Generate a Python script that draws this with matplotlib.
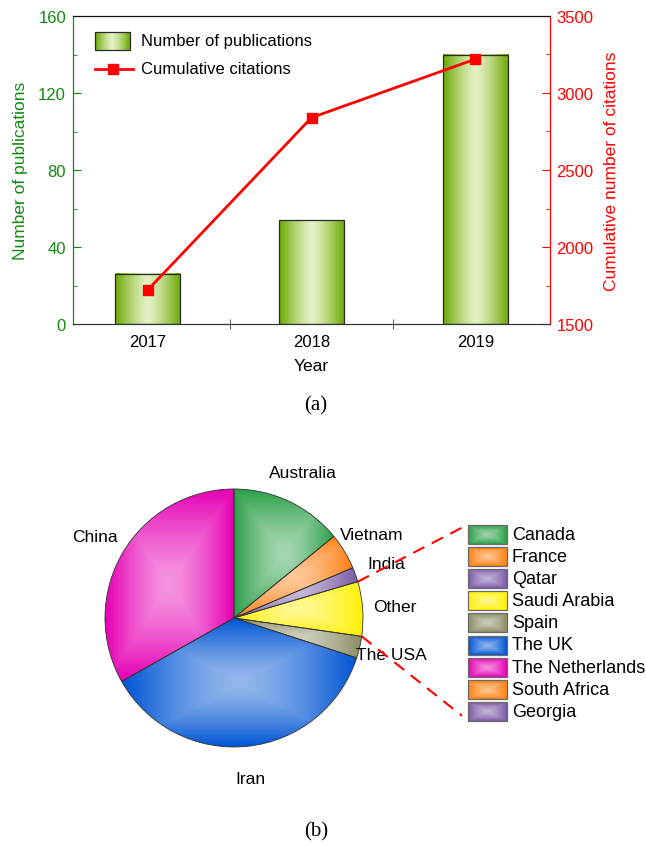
import numpy as np
import matplotlib.pyplot as plt
from matplotlib.patches import Rectangle
from matplotlib.lines import Line2D
from matplotlib.colors import to_rgb

plt.rcParams['font.family'] = ['Liberation Sans', 'DejaVu Sans']

# publications per year and cumulative citations
years = [2017, 2018, 2019]
publications = [26, 54, 140]
citations = [1720, 2840, 3220]

# country shares (number of papers)
countries = ['Australia', 'Vietnam', 'India', 'Other', 'The USA', 'Iran', 'China']
shares = [31, 10, 4, 15, 6, 81, 73]
pie_colors = ['#2ca048', '#ff7f10', '#7a5aa6', '#fff000', '#8c8c64', '#0055d4', '#e600b4']

# countries grouped under "Other"
other_countries = ['Canada', 'France', 'Qatar', 'Saudi Arabia', 'Spain', 'The UK',
                   'The Netherlands', 'South Africa', 'Georgia']
other_colors = ['#2ca048', '#ff7f10', '#7a5aa6', '#fff000', '#8c8c64', '#0055d4',
                '#e600b4', '#ff7f10', '#7a5aa6']

GREEN = '#108a10'
RED = '#ff0000'
W, H = 646, 845


def fig_rect(x0, y0, x1, y1):
    return [x0 / W, 1 - y1 / H, (x1 - x0) / W, (y1 - y0) / H]


def lighten(c, f=0.58):
    c = np.array(to_rgb(c))
    return c + (1 - c) * f


def pyramid(color, n=80, f=0.58, p=1.0):
    # light in the middle, full colour towards the box edges
    base = np.array(to_rgb(color))
    light = lighten(color, f)
    u = np.linspace(-1, 1, n)
    U, V = np.meshgrid(u, u)
    t = np.maximum(np.abs(U), np.abs(V)) ** p
    return light + (base - light) * t[..., None]


def bar_gradient(n=120):
    dark = np.array(to_rgb('#6aa800'))
    light = np.array(to_rgb('#e4f1c4'))
    u = np.abs(np.linspace(-1, 1, n)) ** 1.3
    row = light + (dark - light) * u[:, None]
    return np.repeat(row[None, :, :], 4, axis=0)


fig = plt.figure(figsize=(W / 100, H / 100), dpi=100)

# ---------------- (a) bars + cumulative line ----------------
XLIM = (2016.545, 2019.455)
ax = fig.add_axes(fig_rect(73, 17, 550, 325))
bars = ax.bar(years, publications, width=0.4, facecolor='none',
              edgecolor='#2b2b2b', linewidth=0.9, zorder=3)
grad = bar_gradient()
for b in bars:
    x0, y0, w, h = b.get_x(), b.get_y(), b.get_width(), b.get_height()
    ax.imshow(grad, extent=[x0, x0 + w, y0, y0 + h], aspect='auto', zorder=2)

ax.set_xticks(years)
ax.set_xticklabels([str(y) for y in years])
ax.set_xticks([2017.5, 2018.5], minor=True)
ax.tick_params(axis='x', which='major', length=0, pad=7, labelsize=12)
ax.tick_params(axis='x', which='minor', length=7, direction='inout', color='#333333')
ax.set_yticks(np.arange(0, 161, 40))
ax.set_yticks(np.arange(0, 161, 20), minor=True)
ax.tick_params(axis='y', which='major', direction='in', length=6, pad=5,
               colors=GREEN, labelsize=12)
ax.tick_params(axis='y', which='minor', direction='in', length=3, colors=GREEN)
ax.spines['left'].set_color(GREEN)
ax.spines['bottom'].set_color('#333333')
ax.spines['top'].set_color('#111111')
ax.set_ylabel('Number of publications', color=GREEN, fontsize=12.5, labelpad=7)
ax.set_xlabel('Year', fontsize=12.5, labelpad=7)

ax2 = ax.twinx()
ax2.plot(years, citations, color=RED, lw=2, marker='s', ms=7, zorder=4)
ax2.set_ylim(1500, 3500)
ax2.set_yticks(np.arange(1500, 3501, 500))
ax2.set_yticks(np.arange(1500, 3501, 250), minor=True)
ax2.tick_params(axis='y', which='major', direction='in', length=6, pad=4.5,
                colors=RED, labelsize=12)
ax2.tick_params(axis='y', which='minor', direction='in', length=3, colors=RED)
ax2.spines['right'].set_color(RED)
ax2.spines['left'].set_color(GREEN)
ax2.spines['top'].set_color('#111111')
ax2.spines['bottom'].set_color('#333333')
ax2.set_ylabel('Cumulative number of citations', color=RED, fontsize=12.5, labelpad=8)

# hand-made legend so the swatch carries the same gradient as the bars
ax.imshow(grad, extent=[0.046, 0.119, 0.890, 0.948], aspect='auto',
          transform=ax.transAxes, zorder=5)
ax.add_patch(Rectangle((0.046, 0.890), 0.073, 0.058, transform=ax.transAxes,
                       facecolor='none', edgecolor='#2b2b2b', lw=0.9, zorder=6))
ax.text(0.143, 0.919, 'Number of publications', transform=ax.transAxes,
        fontsize=12, va='center', ha='left')
ax.add_line(Line2D([0.046, 0.126], [0.828, 0.828], transform=ax.transAxes,
                   color=RED, lw=2, zorder=6))
ax.add_line(Line2D([0.084], [0.828], transform=ax.transAxes, color=RED,
                   marker='s', ms=7, zorder=7))
ax.text(0.143, 0.828, 'Cumulative citations', transform=ax.transAxes,
        fontsize=12, va='center', ha='left')
ax.set_xlim(*XLIM)
ax.set_ylim(0, 160)

fig.text(316 / W, 1 - 406 / H, '(a)', family='Liberation Serif', fontsize=15,
         ha='center', va='center')

# ---------------- (b) country pie ----------------
axp = fig.add_axes([0, 0, 1, 1])
center = (234, H - 619)
radius = 129
wedges, texts = axp.pie(shares, labels=countries, colors=pie_colors, startangle=90,
                        counterclock=False, center=center, radius=radius,
                        labeldistance=1.25,
                        wedgeprops=dict(edgecolor='#333333', linewidth=0.6),
                        textprops=dict(fontsize=12.5))
for t in texts:
    t.set_ha('center')
for wdg, col in zip(wedges, pie_colors):
    ext = wdg.get_path().get_extents()
    im = axp.imshow(pyramid(col, p=1.4), extent=[ext.x0, ext.x1, ext.y0, ext.y1],
                    aspect='auto', zorder=1.5)
    im.set_clip_path(wdg)
    wdg.set_facecolor('none')
    wdg.set_zorder(2)

# breakdown of "Other"
box_x0, box_x1, box_top, pitch, box_h = 468, 507, 526, 22.1, 19
for i, (name, col) in enumerate(zip(other_countries, other_colors)):
    top = box_top + i * pitch
    y0, y1 = H - top - box_h, H - top
    axp.imshow(pyramid(col, f=0.55, p=1.3), extent=[box_x0, box_x1, y0, y1],
               aspect='auto', zorder=3)
    axp.add_patch(Rectangle((box_x0, y0), box_x1 - box_x0, box_h, facecolor='none',
                            edgecolor='#6a6a6a', lw=0.9, zorder=4))
    axp.text(box_x1 + 5, (y0 + y1) / 2, name, fontsize=13, va='center', ha='left')

# dashed connectors from the "Other" slice to the breakdown boxes
other = wedges[countries.index('Other')]
a_hi, a_lo = sorted([other.theta1, other.theta2], reverse=True)
legend_bottom = box_top + (len(other_countries) - 1) * pitch + box_h
for ang, end in [(a_hi, (box_x0 - 1, H - box_top)),
                 (a_lo, (box_x0 - 6, H - legend_bottom + 5))]:
    sx = center[0] + radius * np.cos(np.radians(ang))
    sy = center[1] + radius * np.sin(np.radians(ang))
    axp.plot([sx, end[0]], [sy, end[1]], color=RED, lw=1.5, ls=(0, (6, 4)), zorder=5)

axp.set_xlim(0, W)
axp.set_ylim(0, H)
axp.set_aspect('equal', adjustable='box')
axp.axis('off')

fig.text(316 / W, 1 - 832 / H, '(b)', family='Liberation Serif', fontsize=15,
         ha='center', va='center')

fig.savefig('out.png', dpi=100)
